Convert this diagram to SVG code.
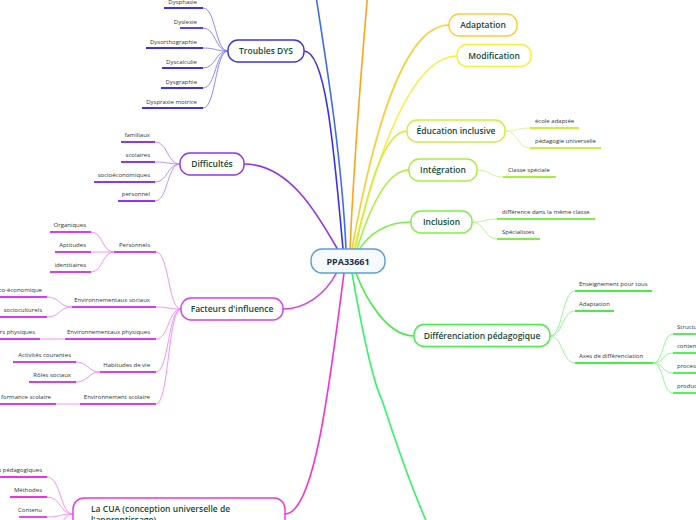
<svg xmlns="http://www.w3.org/2000/svg" width="696" height="520" viewBox="0 0 696 520">
<style>
.nt{font-family:"Open Sans","Noto Sans",sans-serif;font-size:8.5px;font-weight:600;fill:#124a38;text-anchor:middle}
.lt{font-family:"Open Sans","Noto Sans",sans-serif;font-size:6px;fill:#333}
.le{text-anchor:end}
.n{fill:#fff;stroke-width:1.4}
.m{fill:none;stroke-width:1.6}
.s{fill:none;stroke-width:0.9}
.u{fill:none;stroke-width:1.8}
</style>
<rect width="696" height="520" fill="#fff"/>
<g id="connectors">
<!-- main branches -->
<path class="m" stroke="#3a6cf5" d="M346,249 C342,160 326,60 315,-10"/>
<path class="m" stroke="#ffa31a" d="M350,249 C354,160 362,60 368,-10"/>
<path class="m" stroke="#3b2ff5" d="M304,51 C326,51 334,150 343,249"/>
<path class="m" stroke="#9333ee" d="M244,164 C290,164 318,215 338,250"/>
<path class="m" stroke="#d63cf0" d="M283,309 C305,309 325,295 337,272"/>
<path class="m" stroke="#f032d8" d="M285,514 C315,514 330,380 344,273"/>
<path class="m" stroke="#ffcc33" d="M449,25 C400,25 370,150 352,249"/>
<path class="m" stroke="#f7ef3a" d="M457,56 C410,56 376,160 354,249"/>
<path class="m" stroke="#c8f03c" d="M407,131 C382,131 366,200 355,249"/>
<path class="m" stroke="#a8ef3c" d="M409,170 C384,170 366,220 357,249"/>
<path class="m" stroke="#7def44" d="M411,222 C385,222 368,235 359,250"/>
<path class="m" stroke="#44ee44" d="M414,336 C388,336 366,300 356,273"/>
<path class="m" stroke="#33f566" d="M352,273 C362,330 372,380 382,400 C395,440 410,485 428,525"/>
<!-- Troubles DYS leaves -->
<g stroke="#7f7bff" class="s">
<path d="M203,8 C216,8 215,51 228,51"/>
<path d="M203,28 C216,28 215,51 228,51"/>
<path d="M203,48 C216,48 215,51 228,51"/>
<path d="M203,68 C216,68 215,51 228,51"/>
<path d="M203,88 C216,88 215,51 228,51"/>
<path d="M203,108 C216,108 215,51 228,51"/>
</g>
<!-- Difficultés leaves -->
<g stroke="#b58af5" class="s">
<path d="M155,142 C168,142 167,164 180,164"/>
<path d="M155,162 C168,162 167,164 180,164"/>
<path d="M155,182 C168,182 167,164 180,164"/>
<path d="M155,201 C168,201 167,164 180,164"/>
</g>
<!-- Facteurs sub -->
<g stroke="#e98af5" class="s">
<path d="M156,252 C169,252 168,309 181,309"/>
<path d="M156,307 C169,307 168,309 181,309"/>
<path d="M156,339 C169,339 168,309 181,309"/>
<path d="M156,372 C169,372 168,309 181,309"/>
<path d="M156,404 C169,404 168,309 181,309"/>
<path d="M91,232 C103,232 102,252 114,252"/>
<path d="M91,252 L114,252"/>
<path d="M91,272 C103,272 102,252 114,252"/>
<path d="M47,297 C60,297 59,307 72,307"/>
<path d="M47,317 C60,317 59,307 72,307"/>
<path d="M40,339 L65,339"/>
<path d="M76,362 C88,362 88,372 100,372"/>
<path d="M76,382 C88,382 88,372 100,372"/>
<path d="M56,404 L80,404"/>
</g>
<!-- CUA leaves -->
<g stroke="#f58ae8" class="s">
<path d="M47,477 C61,477 60,514 73,514"/>
<path d="M47,497 C61,497 60,514 73,514"/>
<path d="M47,517 C61,517 60,514 73,514"/>
<path d="M47,537 C61,537 60,514 73,514"/>
</g>
<!-- right side leaves -->
<g stroke="#dcf58a" class="s">
<path d="M505,131 C518,131 517,128 530,128"/>
<path d="M505,131 C518,131 517,148 530,148"/>
</g>
<path class="s" stroke="#c8f58a" d="M477,170 C490,170 490,177 503,177"/>
<g stroke="#aef58a" class="s">
<path d="M472,222 C485,222 484,219 497,219"/>
<path d="M472,222 C485,222 484,239 497,239"/>
</g>
<g stroke="#8af58a" class="s">
<path d="M550,336 C563,336 562,291 575,291"/>
<path d="M550,336 C563,336 562,311 575,311"/>
<path d="M550,336 C563,336 562,363 575,363"/>
<path d="M653,363 C664,363 662,334 673,334"/>
<path d="M653,363 C664,363 662,353 673,353"/>
<path d="M653,363 C664,363 662,373 673,373"/>
<path d="M653,363 C664,363 662,393 673,393"/>
</g>
</g>
<g id="center">
<rect x="311" y="249" width="74" height="24" rx="11" fill="#f7fafd" stroke="#5a9fd4" stroke-width="1.4"/>
<text x="348" y="264.5" class="nt" style="font-size:9px;font-weight:700;fill:#1d2f4f">PPA33661</text>
</g>
<g id="troubles-dys">
<rect class="n" x="228" y="40" width="76" height="22" rx="10" stroke="#3b2ff5"/>
<text class="nt" x="266" y="54">Troubles DYS</text>
<g stroke="#3b2ff5" class="u">
<path d="M164,8H203"/><path d="M180,28H203"/><path d="M146,48H203"/><path d="M162,68H203"/><path d="M161,88H203"/><path d="M142,108H203"/>
</g>
<text class="lt le" x="197" y="4">Dysphasie</text>
<text class="lt le" x="197" y="24">Dyslexie</text>
<text class="lt le" x="197" y="44">Dysorthographie</text>
<text class="lt le" x="197" y="64">Dyscalculie</text>
<text class="lt le" x="197" y="84">Dysgraphie</text>
<text class="lt le" x="197" y="104">Dyspraxie motrice</text>
</g>
<g id="difficultes">
<rect class="n" x="180" y="153" width="64" height="22" rx="10" stroke="#9333ee"/>
<text class="nt" x="212" y="167">Difficultés</text>
<g stroke="#9333ee" class="u">
<path d="M121,142H155"/><path d="M121,162H155"/><path d="M94,182H155"/><path d="M118,201H155"/>
</g>
<text class="lt le" x="150" y="137">familiaux</text>
<text class="lt le" x="150" y="157">scolaires</text>
<text class="lt le" x="150" y="177">socioéconomiques</text>
<text class="lt le" x="150" y="196">personnel</text>
</g>
<g id="facteurs">
<rect class="n" x="181" y="298" width="102" height="22" rx="10" stroke="#d63cf0"/>
<text class="nt" x="232" y="312">Facteurs d'influence</text>
<g stroke="#d63cf0" class="u">
<path d="M114,252H156"/><path d="M72,307H156"/><path d="M65,339H156"/><path d="M100,372H156"/><path d="M80,404H156"/>
<path d="M50,232H91"/><path d="M55,252H91"/><path d="M50,272H91"/>
<path d="M0,297H47"/><path d="M0,317H47"/><path d="M0,339H40"/>
<path d="M13,362H76"/><path d="M29,382H76"/><path d="M0,404H56"/>
</g>
<text class="lt le" x="150" y="247">Personnels</text>
<text class="lt le" x="150" y="302">Environnementaux sociaux</text>
<text class="lt le" x="150" y="334">Environnementaux physiques</text>
<text class="lt le" x="150" y="367">Habitudes de vie</text>
<text class="lt le" x="150" y="399">Environnement scolaire</text>
<text class="lt le" x="86" y="227">Organiques</text>
<text class="lt le" x="86" y="247">Aptitudes</text>
<text class="lt le" x="86" y="267">identitaires</text>
<text class="lt le" x="42" y="292">co-économique</text>
<text class="lt le" x="42" y="312">socioculturels</text>
<text class="lt le" x="35" y="334">rs physiques</text>
<text class="lt le" x="71" y="357">Activités courantes</text>
<text class="lt le" x="71" y="377">Rôles sociaux</text>
<text class="lt le" x="51" y="399">formance scolaire</text>
</g>
<g id="cua">
<rect class="n" x="73" y="498" width="212" height="40" rx="11" stroke="#f032d8"/>
<text class="nt" x="91" y="511.5" style="text-anchor:start">La CUA (conception universelle de</text>
<text class="nt" x="91" y="523" style="text-anchor:start">l'apprentissage)</text>
<g stroke="#f032d8" class="u">
<path d="M0,477H47"/><path d="M10,497H47"/><path d="M19,517H47"/>
</g>
<text class="lt le" x="42" y="472">s pédagogiques</text>
<text class="lt le" x="42" y="492">Méthodes</text>
<text class="lt le" x="42" y="512">Contenu</text>
</g>
<g id="adaptation">
<rect class="n" x="449" y="14" width="68" height="22" rx="10" stroke="#ffcc33"/>
<text class="nt" x="483" y="28">Adaptation</text>
</g>
<g id="modification">
<rect class="n" x="457" y="44.5" width="74" height="22" rx="10" stroke="#f7ef3a"/>
<text class="nt" x="494" y="58.5">Modification</text>
</g>
<g id="education-inclusive">
<rect class="n" x="407" y="120" width="98" height="22" rx="10" stroke="#c8f03c"/>
<text class="nt" x="456" y="134">Éducation inclusive</text>
<g stroke="#c8f03c" class="u"><path d="M530,128H579"/><path d="M530,148H601"/></g>
<text class="lt" x="535" y="123">école adaptée</text>
<text class="lt" x="535" y="143">pédagogie universelle</text>
</g>
<g id="integration">
<rect class="n" x="409" y="159" width="68" height="22" rx="10" stroke="#a8ef3c"/>
<text class="nt" x="443" y="173">Intégration</text>
<path class="u" stroke="#a8ef3c" d="M503,177H556"/>
<text class="lt" x="508" y="172">Classe spéciale</text>
</g>
<g id="inclusion">
<rect class="n" x="411" y="211" width="61" height="22" rx="10" stroke="#7def44"/>
<text class="nt" x="441.5" y="225">Inclusion</text>
<g stroke="#7def44" class="u"><path d="M497,219H595"/><path d="M497,239H540"/></g>
<text class="lt" x="502" y="214">différence dans la même classe</text>
<text class="lt" x="502" y="234">Spécialistes</text>
</g>
<g id="differenciation">
<rect class="n" x="414" y="324.5" width="136" height="22" rx="10" stroke="#44ee44"/>
<text class="nt" x="482" y="338.5">Différenciation pédagogique</text>
<g stroke="#44ee44" class="u">
<path d="M575,291H652"/><path d="M575,311H614"/><path d="M575,363H653"/>
<path d="M673,334H696"/><path d="M673,353H696"/><path d="M673,373H696"/><path d="M673,393H696"/>
</g>
<text class="lt" x="579" y="286">Enseignement pour tous</text>
<text class="lt" x="579" y="306">Adaptation</text>
<text class="lt" x="579" y="358">Axes de différenciation</text>
<text class="lt" x="677" y="329">Structures</text>
<text class="lt" x="677" y="348">contenus</text>
<text class="lt" x="677" y="368">processus</text>
<text class="lt" x="677" y="388">productions</text>
</g>
</svg>
